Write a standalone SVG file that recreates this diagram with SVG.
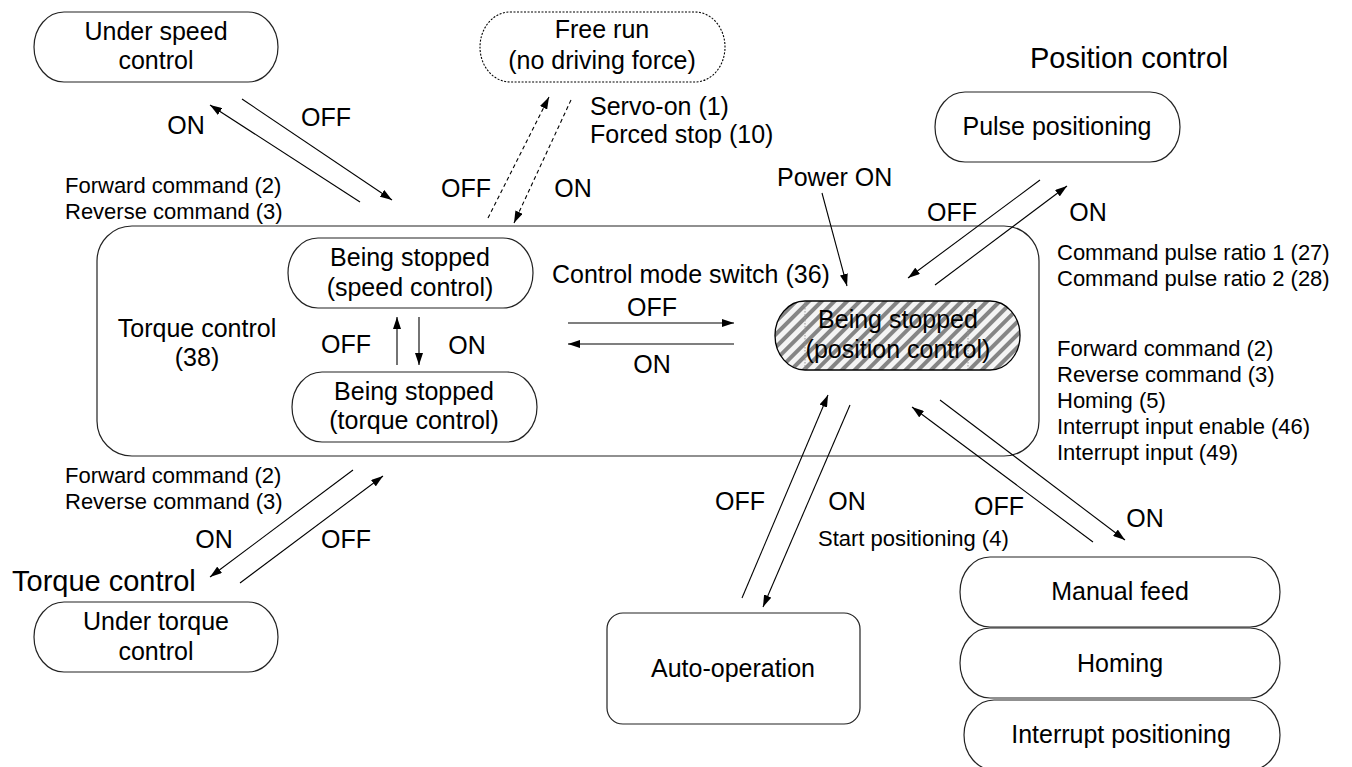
<svg xmlns="http://www.w3.org/2000/svg" width="1352" height="767" viewBox="0 0 1352 767">
<style>
text{font-family:"Liberation Sans",Arial,sans-serif;fill:#000}
.n{font-size:25px;text-anchor:middle}
.l{font-size:25px}
.s{font-size:22px}
.big{font-size:29px}
.c{text-anchor:middle}
.pill{fill:#fff;stroke:#222;stroke-width:1.2}
.ln{fill:none;stroke:#000;stroke-width:1.1}
.dash{fill:none;stroke:#000;stroke-width:1.1;stroke-dasharray:4 3}
</style>
<defs>
<marker id="ah" viewBox="0 0 12 8" refX="12" refY="4" markerWidth="12" markerHeight="8" orient="auto" markerUnits="userSpaceOnUse"><path d="M0,0 L12,4 L0,8 z" fill="#000"/></marker>
<pattern id="hatch" width="9" height="9" patternUnits="userSpaceOnUse" patternTransform="rotate(45)"><rect width="9" height="9" fill="#f4f4f4"/><rect x="0" width="4" height="9" fill="#858585"/></pattern>
</defs>
<rect width="1352" height="767" fill="#fff"/>

<g id="torque-mode-box"><rect x="97" y="226" width="942" height="230" rx="35" ry="35" class="pill"/></g>

<g id="under-speed"><rect x="34" y="12" width="244" height="70" rx="30" ry="35" class="pill"/><text class="n" x="156" y="40">Under speed</text><text class="n" x="156" y="69">control</text></g>
<g id="free-run"><rect x="480" y="12" width="245" height="70" rx="30" ry="35" fill="#fff" stroke="#000" stroke-width="1.1" stroke-dasharray="2 1.5"/><text class="n" x="602" y="38">Free run</text><text class="n" x="602" y="69">(no driving force)</text></g>
<g id="pulse-positioning"><rect x="935" y="92" width="245" height="70" rx="30" ry="35" class="pill"/><text class="n" x="1057" y="135">Pulse positioning</text></g>
<g id="stopped-speed"><rect x="288" y="238" width="245" height="70" rx="30" ry="35" class="pill"/><text class="n" x="410" y="266">Being stopped</text><text class="n" x="410" y="296">(speed control)</text></g>
<g id="stopped-torque"><rect x="292" y="372" width="245" height="70" rx="30" ry="35" class="pill"/><text class="n" x="414" y="400">Being stopped</text><text class="n" x="414" y="429">(torque control)</text></g>
<g id="stopped-position"><rect x="775" y="301" width="245" height="69" rx="30" ry="34.5" fill="url(#hatch)" stroke="#000" stroke-width="1.3"/><line x1="805" y1="302" x2="805" y2="369" stroke="#999" stroke-width="1" stroke-dasharray="1.5 1.5"/><line x1="968" y1="302" x2="968" y2="369" stroke="#999" stroke-width="1" stroke-dasharray="1.5 1.5"/><text class="n" x="898" y="328">Being stopped</text><text class="n" x="898" y="358">(position control)</text></g>
<g id="under-torque"><rect x="34" y="602" width="244" height="70" rx="30" ry="35" class="pill"/><text class="n" x="156" y="630">Under torque</text><text class="n" x="156" y="660">control</text></g>
<g id="auto-operation"><rect x="607" y="613" width="253" height="111" rx="16" ry="16" class="pill"/><text class="n" x="733" y="677">Auto-operation</text></g>
<g id="manual-feed"><rect x="960" y="557" width="320" height="70" rx="30" ry="35" class="pill"/><text class="n" x="1120" y="600">Manual feed</text></g>
<g id="homing"><rect x="960" y="628" width="320" height="70" rx="30" ry="35" class="pill"/><text class="n" x="1120" y="672">Homing</text></g>
<g id="interrupt-positioning"><rect x="964" y="700" width="316" height="70" rx="30" ry="35" class="pill"/><text class="n" x="1121" y="743">Interrupt positioning</text></g>

<g id="connectors">
<line class="ln" x1="360" y1="202" x2="210" y2="105" marker-end="url(#ah)"/>
<line class="ln" x1="242" y1="99" x2="392" y2="200" marker-end="url(#ah)"/>
<line class="dash" x1="488" y1="218" x2="549" y2="97" marker-end="url(#ah)"/>
<line class="dash" x1="571" y1="100" x2="514" y2="223" marker-end="url(#ah)"/>
<line class="ln" x1="822" y1="193" x2="847" y2="286" marker-end="url(#ah)"/>
<line class="ln" x1="1040" y1="180" x2="908" y2="278" marker-end="url(#ah)"/>
<line class="ln" x1="935" y1="285" x2="1067" y2="186" marker-end="url(#ah)"/>
<line class="ln" x1="397" y1="365" x2="397" y2="317" marker-end="url(#ah)"/>
<line class="ln" x1="419" y1="317" x2="419" y2="365" marker-end="url(#ah)"/>
<line class="ln" x1="568" y1="323" x2="734" y2="323" marker-end="url(#ah)"/>
<line class="ln" x1="734" y1="344" x2="568" y2="344" marker-end="url(#ah)"/>
<line class="ln" x1="353" y1="470" x2="210" y2="577" marker-end="url(#ah)"/>
<line class="ln" x1="240" y1="583" x2="383" y2="476" marker-end="url(#ah)"/>
<line class="ln" x1="742" y1="598" x2="828" y2="395" marker-end="url(#ah)"/>
<line class="ln" x1="850" y1="405" x2="763" y2="607" marker-end="url(#ah)"/>
<line class="ln" x1="1093" y1="542" x2="912" y2="407" marker-end="url(#ah)"/>
<line class="ln" x1="940" y1="400" x2="1125" y2="540" marker-end="url(#ah)"/>
</g>

<g id="labels">
<text class="l c" x="186" y="134">ON</text>
<text class="l c" x="326" y="126">OFF</text>
<text class="s" x="65" y="193">Forward command (2)</text>
<text class="s" x="65" y="219">Reverse command (3)</text>
<text class="l" x="590" y="115">Servo-on (1)</text>
<text class="l" x="590" y="143">Forced stop (10)</text>
<text class="l c" x="466" y="197">OFF</text>
<text class="l c" x="573" y="197">ON</text>
<text class="big" x="1030" y="68">Position control</text>
<text class="l" x="777" y="186">Power ON</text>
<text class="l c" x="952" y="221">OFF</text>
<text class="l c" x="1088" y="221">ON</text>
<text class="s" x="1057" y="260">Command pulse ratio 1 (27)</text>
<text class="s" x="1057" y="286">Command pulse ratio 2 (28)</text>
<text class="s" x="1057" y="356">Forward command (2)</text>
<text class="s" x="1057" y="382">Reverse command (3)</text>
<text class="s" x="1057" y="408">Homing (5)</text>
<text class="s" x="1057" y="434">Interrupt input enable (46)</text>
<text class="s" x="1057" y="460">Interrupt input (49)</text>
<text class="n" x="197" y="337">Torque control</text>
<text class="n" x="197" y="366">(38)</text>
<text class="l c" x="346" y="353">OFF</text>
<text class="l c" x="467" y="354">ON</text>
<text class="l" x="552" y="283">Control mode switch (36)</text>
<text class="l c" x="652" y="316">OFF</text>
<text class="l c" x="652" y="373">ON</text>
<text class="s" x="65" y="483">Forward command (2)</text>
<text class="s" x="65" y="509">Reverse command (3)</text>
<text class="l c" x="214" y="548">ON</text>
<text class="l c" x="346" y="548">OFF</text>
<text class="big" x="12" y="591">Torque control</text>
<text class="l c" x="740" y="510">OFF</text>
<text class="l c" x="847" y="510">ON</text>
<text class="s" x="818" y="546">Start positioning (4)</text>
<text class="l c" x="999" y="515">OFF</text>
<text class="l c" x="1145" y="527">ON</text>
</g>
</svg>
